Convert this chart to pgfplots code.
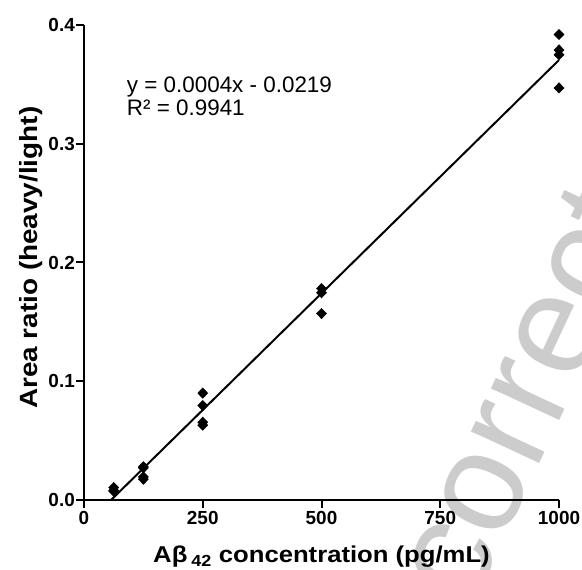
\documentclass[border=0pt]{standalone}
\usepackage{pgfplots}
\pgfplotsset{compat=1.18}
\usepackage{fontspec}
\setmainfont{Liberation Sans}
\newfontfamily\widefont[FakeStretch=1.12]{Liberation Sans}
\begin{document}
\begin{tikzpicture}[x=1bp,y=1bp]
\node[overlay, rotate=65, anchor=base west, text=black!20, inner sep=0,
      font=\fontsize{143}{143}\selectfont] at (387.6,-109.5) {corrected};
\begin{axis}[
  at={(0,0)}, anchor=south west,
  scale only axis, width=475bp, height=475bp,
  xmin=0, xmax=1000, ymin=0, ymax=0.4,
  axis x line=bottom, axis y line=left,
  axis line style={-, line width=2.2bp},
  every tick/.style={black, line width=2bp},
  tick align=outside, major tick length=8bp,
  xtick={0,250,500,750,1000},
  ytick={0,0.1,0.2,0.3,0.4},
  scaled ticks=false,
  /pgf/number format/assume math mode=true,
  /pgf/number format/1000 sep={},
  tick label style={font=\bfseries\fontsize{19}{19}\selectfont},
  yticklabel style={inner sep=1bp, /pgf/number format/fixed, /pgf/number format/fixed zerofill, /pgf/number format/precision=1},
  xticklabel style={inner sep=1bp, yshift=-2bp},
  xlabel={Aβ\,\textsubscript{42} concentration (pg/mL)},
  ylabel={Area ratio (heavy/light)},
  xlabel style={font=\widefont\bfseries\fontsize{23}{23}\selectfont, at={(axis description cs:0.5,0)}, anchor=base, yshift=-62.7bp},
  ylabel style={font=\widefont\bfseries\fontsize{25}{25}\selectfont, at={(axis description cs:-0.097,0.51)}, anchor=base},
  clip=false,
]
\addplot[only marks, mark=diamond*, mark size=5.2bp, mark options={xscale=1.3, fill=black, draw=black}, black] coordinates {
  (62.5,0.0105) (62.5,0.008) (62.5,0.0075)
  (125,0.028) (125,0.027) (125,0.0195) (125,0.0175)
  (250,0.090) (250,0.0795) (250,0.0655) (250,0.063)
  (500,0.178) (500,0.1745) (500,0.157)
  (1000,0.392) (1000,0.379) (1000,0.375) (1000,0.347)
};
\addplot[black, line width=2bp, no marks] coordinates {(57,0) (1000,0.3705)};
\node[anchor=base west, inner sep=0, font=\fontsize{22.5}{22.5}\selectfont] at (axis cs:90,0.343) {y = 0.0004x - 0.0219};
\node[anchor=base west, inner sep=0, font=\fontsize{22.5}{22.5}\selectfont] at (axis cs:90,0.3234) {R² = 0.9941};
\end{axis}
\pgfresetboundingbox
\path (-84,-70) rectangle (498,500);
\end{tikzpicture}
\end{document}
